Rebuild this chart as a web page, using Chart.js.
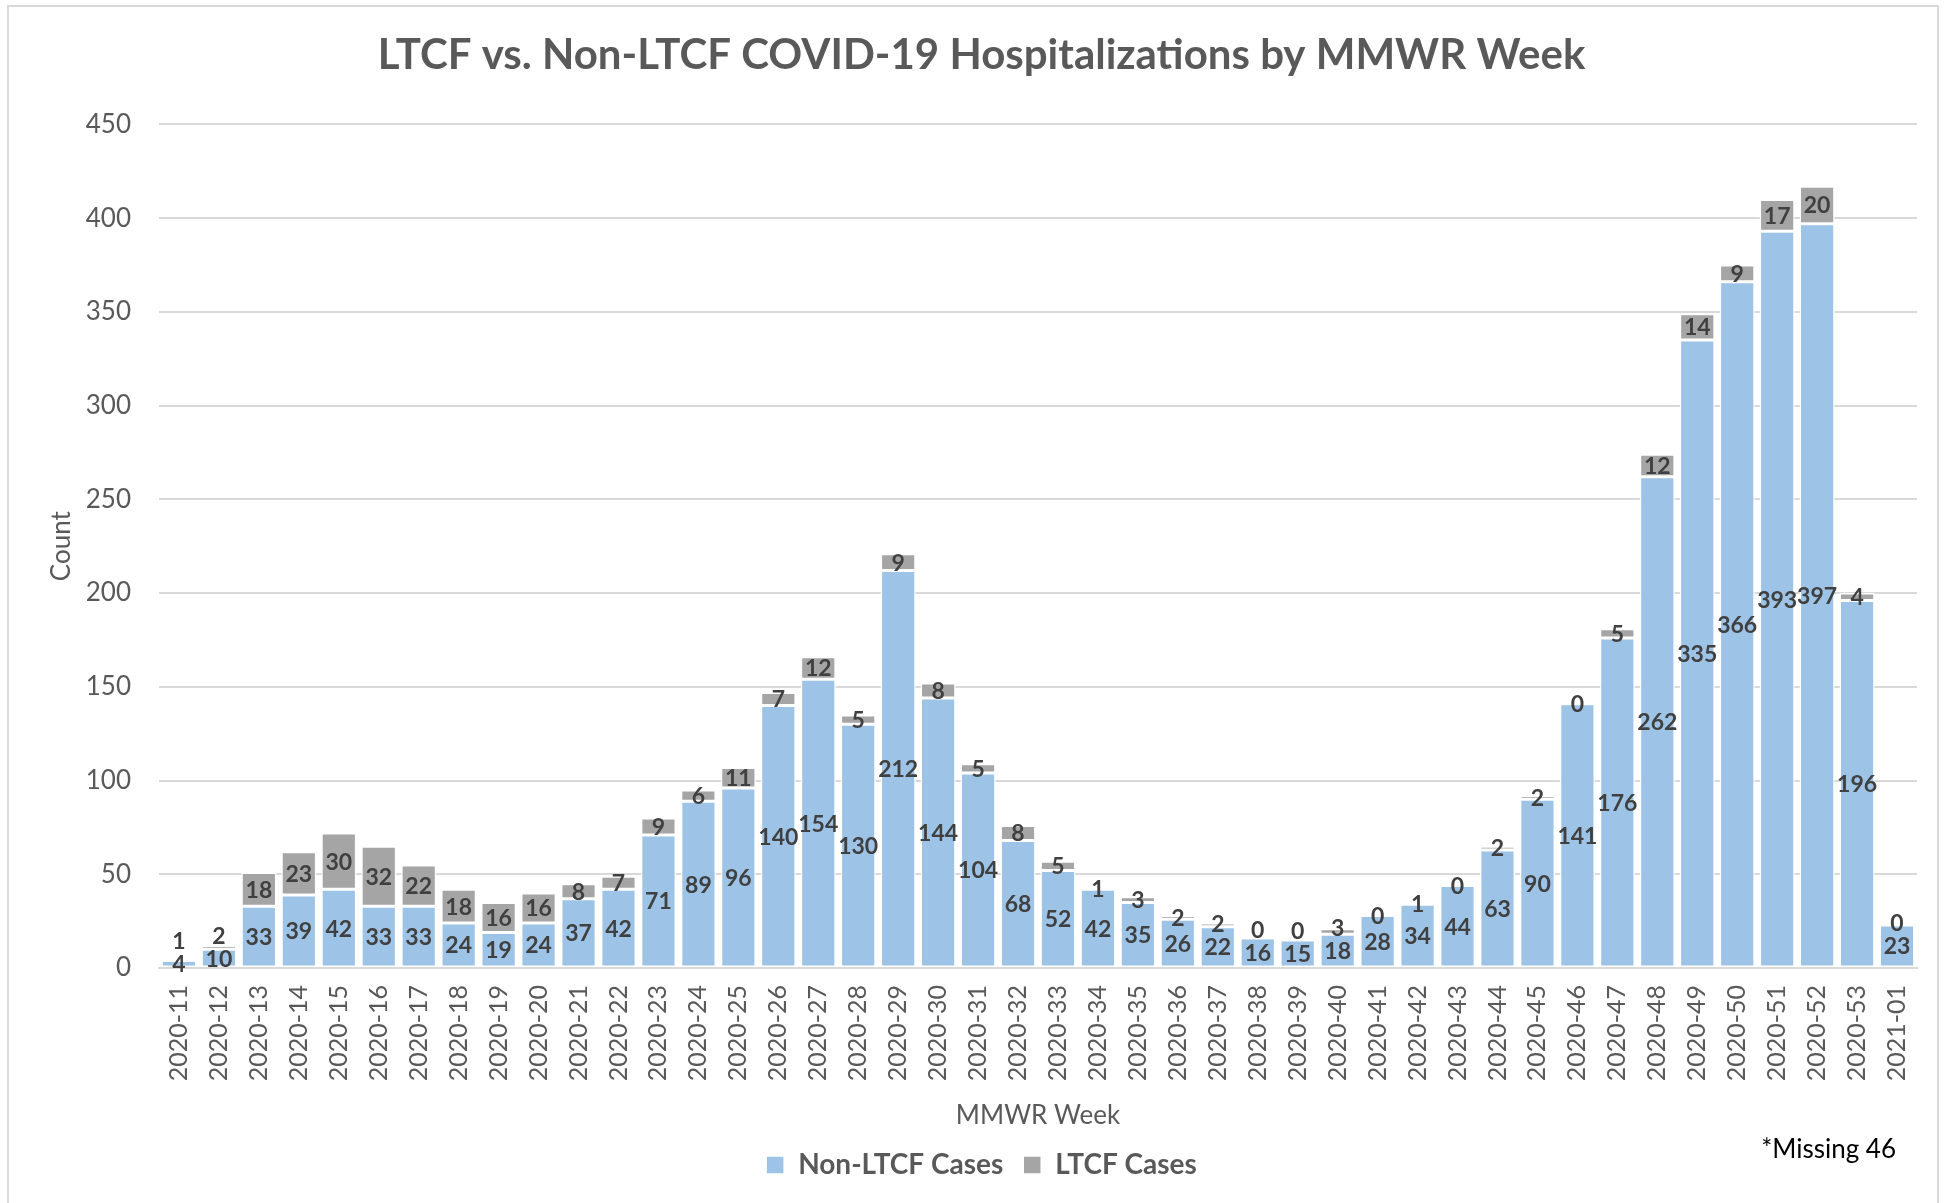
<!DOCTYPE html>
<html>
<head>
<meta charset="utf-8">
<script src="https://cdn.jsdelivr.net/npm/chart.js@4.4.1/dist/chart.umd.min.js"></script>
<style>
  body { margin: 0; background: #fff; }
  #wrap { position: relative; width: 1946px; height: 1203px; overflow: hidden; }
  #frame { position: absolute; left: 7px; top: 5px; width: 1932px; height: 1240px; border: 2px solid #d9d9d9; box-sizing: border-box; }
  canvas { position: absolute; left: 0; top: 0; }
</style>
</head>
<body>
<div id="wrap">
  <div id="frame"></div>
  <canvas id="chart" width="1946" height="1203"></canvas>
</div>
<script>
// MMWR weeks
const weeks = [
  '2020-11','2020-12','2020-13','2020-14','2020-15','2020-16','2020-17','2020-18','2020-19','2020-20',
  '2020-21','2020-22','2020-23','2020-24','2020-25','2020-26','2020-27','2020-28','2020-29','2020-30',
  '2020-31','2020-32','2020-33','2020-34','2020-35','2020-36','2020-37','2020-38','2020-39','2020-40',
  '2020-41','2020-42','2020-43','2020-44','2020-45','2020-46','2020-47','2020-48','2020-49','2020-50',
  '2020-51','2020-52','2020-53','2021-01'
];

const nonLtcf = [
  4, 10, 33, 39, 42, 33, 33, 24, 19, 24,
  37, 42, 71, 89, 96, 140, 154, 130, 212, 144,
  104, 68, 52, 42, 35, 26, 22, 16, 15, 18,
  28, 34, 44, 63, 90, 141, 176, 262, 335, 366,
  393, 397, 196, 23
];

const ltcf = [
  1, 2, 18, 23, 30, 32, 22, 18, 16, 16,
  8, 7, 9, 6, 11, 7, 12, 5, 9, 8,
  5, 8, 5, 1, 3, 2, 2, 0, 0, 3,
  0, 1, 0, 2, 2, 0, 5, 12, 14, 9,
  17, 20, 4, 0
];

const yTicks = [0, 50, 100, 150, 200, 250, 300, 350, 400, 450];

const FONT = 'Lato, "Open Sans", sans-serif';
const GREY_TEXT = '#595959';

// value labels in the middle of each segment; LTCF label is pushed up
// when it would sit on top of the Non-LTCF label
const segmentLabels = {
  id: 'segmentLabels',
  afterDatasetsDraw(chart) {
    const ctx = chart.ctx;
    ctx.save();
    ctx.font = 'bold 23px ' + FONT;
    ctx.fillStyle = '#404040';
    ctx.textAlign = 'center';
    ctx.textBaseline = 'middle';
    const m0 = chart.getDatasetMeta(0).data;
    const m1 = chart.getDatasetMeta(1).data;
    const minGap = 23;
    for (let i = 0; i < weeks.length; i++) {
      const a = m0[i], b = m1[i];
      const ya = (a.y + a.base) / 2;
      let yb = (b.y + b.base) / 2;
      if (ya - yb < minGap) yb = ya - minGap;
      ctx.fillText(String(nonLtcf[i]), a.x, ya + 1);
      ctx.fillText(String(ltcf[i]), b.x, yb + 1);
    }
    ctx.restore();
  }
};

const footNote = {
  id: 'footNote',
  afterDraw(chart) {
    const ctx = chart.ctx;
    ctx.save();
    ctx.font = '26px ' + FONT;
    ctx.fillStyle = '#000';
    ctx.textAlign = 'right';
    ctx.textBaseline = 'middle';
    ctx.fillText('*Missing 46', 1896, 1150);
    ctx.restore();
  }
};

new Chart(document.getElementById('chart'), {
  type: 'bar',
  data: {
    labels: weeks,
    datasets: [
      { label: 'Non-LTCF Cases', data: nonLtcf, backgroundColor: '#9dc3e6', borderColor: '#ffffff', borderWidth: 1.5, borderSkipped: false },
      { label: 'LTCF Cases', data: ltcf, backgroundColor: '#a5a5a5', borderColor: '#ffffff', borderWidth: 1.5, borderSkipped: false }
    ]
  },
  options: {
    responsive: false,
    animation: false,
    layout: { padding: { left: 46, right: 29, top: 0, bottom: 14 } },
    datasets: { bar: { barPercentage: 0.88, categoryPercentage: 1 } },
    plugins: {
      title: {
        display: true,
        text: 'LTCF vs. Non-LTCF COVID-19 Hospitalizations by MMWR Week',
        color: GREY_TEXT,
        font: { family: FONT, size: 42, weight: 'bold' },
        padding: { top: 30, bottom: 44 }
      },
      legend: {
        position: 'bottom',
        labels: {
          color: GREY_TEXT,
          font: { family: FONT, size: 28, weight: 'bold' },
          boxWidth: 18, boxHeight: 18, padding: 20
        }
      },
      tooltip: { enabled: false }
    },
    scales: {
      x: {
        stacked: true,
        grid: { display: false, drawTicks: false },
        border: { color: '#d9d9d9', width: 2 },
        ticks: { color: GREY_TEXT, font: { family: FONT, size: 25 }, minRotation: 90, maxRotation: 90, padding: 17, autoSkip: false },
        title: { display: true, text: 'MMWR Week', color: GREY_TEXT, font: { family: FONT, size: 26 }, padding: { top: 1.5, bottom: 0 } }
      },
      y: {
        stacked: true,
        min: 0, max: 450,
        afterBuildTicks(scale) { scale.ticks = yTicks.map(v => ({ value: v })); },
        afterFit(scale) { scale.width = 113; },
        grid: { color: '#d9d9d9', lineWidth: 2, drawTicks: false },
        border: { display: false },
        ticks: { color: GREY_TEXT, font: { family: FONT, size: 26 }, padding: 28 },
        title: { display: true, text: 'Count', color: GREY_TEXT, font: { family: FONT, size: 26 }, padding: { top: 0, bottom: 0 } }
      }
    }
  },
  plugins: [segmentLabels, footNote]
});
</script>
</body>
</html>
